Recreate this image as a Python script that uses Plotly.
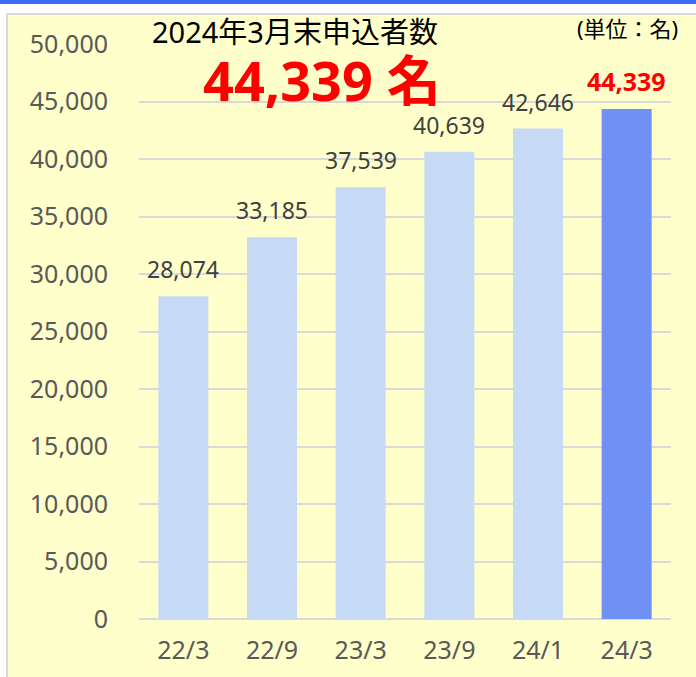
import plotly.graph_objects as go

categories = ["22/3", "22/9", "23/3", "23/9", "24/1", "24/3"]
values = [28074, 33185, 37539, 40639, 42646, 44339]
y_ticks = list(range(0, 50001, 5000))

W, H = 696, 677
ML, MR, MT, MB = 139, 25, 44, 58
PW, PH = W - ML - MR, H - MT - MB


def px(x):
    return (x - ML) / PW


def py(y):
    return (H - MB - y) / PH


bar_colors = ["#C6D9F5"] * (len(values) - 1) + ["#6F91F5"]

fig = go.Figure()
fig.add_trace(go.Bar(
    x=categories, y=values, marker=dict(color=bar_colors, line=dict(width=0)),
    hoverinfo="skip",
))

annotations = []
for i, (c, v) in enumerate(zip(categories, values)):
    last = i == len(values) - 1
    annotations.append(dict(
        x=c, y=v, xref="x", yref="y", text=f"{v:,}", showarrow=False,
        yanchor="bottom", yshift=9,
        font=dict(family="Noto Sans", size=25 if last else 23,
                  color="#FF0000" if last else "#404040",
                  weight="bold" if last else "normal"),
    ))

annotations += [
    dict(x=px(295), y=py(32), xref="paper", yref="paper", showarrow=False,
         xanchor="center", yanchor="middle", text="2024年3月末申込者数",
         font=dict(family="Noto Sans, Noto Sans CJK JP", size=29, color="#000000")),
    dict(x=px(322), y=py(80), xref="paper", yref="paper", showarrow=False,
         xanchor="center", yanchor="middle", text=f"{values[-1]:,} 名",
         font=dict(family="Noto Sans, Noto Sans CJK JP", size=54, color="#FF0000", weight="bold")),
    dict(x=px(627), y=py(28), xref="paper", yref="paper", showarrow=False,
         xanchor="center", yanchor="middle", text="(単位：名)",
         font=dict(family="Noto Sans, Noto Sans CJK JP", size=22, color="#000000")),
]

shapes = [
    dict(type="rect", xref="paper", yref="paper", layer="below",
         x0=px(7), x1=px(W + 5), y0=py(H + 5), y1=py(14),
         fillcolor="#FFFFCC", line=dict(color="#D9D9D9", width=2)),
    dict(type="rect", xref="paper", yref="paper", layer="below",
         x0=px(-2), x1=px(W + 2), y0=py(4), y1=py(-2),
         fillcolor="#3D6CF0", line=dict(width=0)),
]

fig.update_layout(
    width=W, height=H,
    margin=dict(l=ML, r=MR, t=MT, b=MB, autoexpand=False),
    paper_bgcolor="#FFFFFF", plot_bgcolor="rgba(0,0,0,0)",
    font=dict(family="Noto Sans, Noto Sans CJK JP", size=25, color="#595959"),
    bargap=0.436, showlegend=False,
    annotations=annotations, shapes=shapes,
    xaxis=dict(type="category", showgrid=False, showline=False, ticks="",
               automargin=False,
               tickfont=dict(size=25, color="#595959"), ticklabelstandoff=14),
    yaxis=dict(range=[0, 50000], tickvals=y_ticks, tickformat=",",
               automargin=False,
               showgrid=True, gridcolor="#D9D9D9", gridwidth=2,
               zeroline=True, zerolinecolor="#D9D9D9", zerolinewidth=2,
               showline=False, ticks="", ticklabelstandoff=30,
               tickfont=dict(size=25, color="#595959")),
)

fig.write_html(
    "out.html",
    config={"displayModeBar": False, "staticPlot": True},
    post_script="document.body.style.margin='0';document.body.style.overflow='hidden';",
)
